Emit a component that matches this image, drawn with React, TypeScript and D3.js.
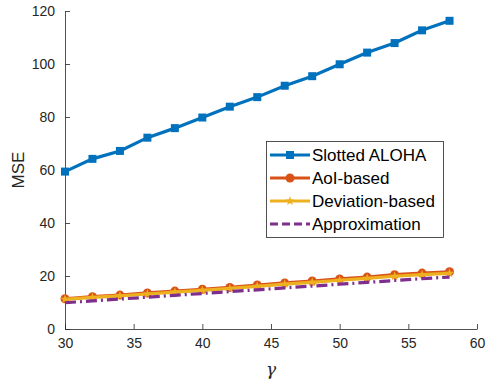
import React, { useEffect, useRef } from "react";
import * as d3 from "d3";

const gammas = [30, 32, 34, 36, 38, 40, 42, 44, 46, 48, 50, 52, 54, 56, 58];
const slotted = [59.4, 64.2, 67.2, 72.2, 75.8, 79.8, 83.9, 87.5, 91.8, 95.4, 99.9, 104.3, 107.9, 112.7, 116.3];
const aoi = [11.4, 12.2, 12.8, 13.6, 14.3, 15.0, 15.7, 16.6, 17.4, 18.1, 18.9, 19.6, 20.5, 21.1, 21.6];
const deviation = [11.2, 11.9, 12.5, 13.2, 13.9, 14.6, 15.3, 16.1, 16.9, 17.6, 18.4, 19.1, 19.9, 20.5, 21.0];
const approx = [9.9, 10.6, 11.3, 12.0, 12.7, 13.4, 14.1, 14.8, 15.5, 16.2, 16.9, 17.6, 18.3, 19.0, 19.6];
const xTicks = [30, 35, 40, 45, 50, 55, 60];
const yTicks = [0, 20, 40, 60, 80, 100, 120];
const legendLabels = ["Slotted ALOHA", "AoI-based", "Deviation-based", "Approximation"];

const App = () => {
  const svgRef = useRef<SVGSVGElement>(null);
  const width = 487;
  const height = 380;
  const margin = { top: 11, right: 10, bottom: 51, left: 65 };

  useEffect(() => {
    const svg = d3.select(svgRef.current);
    svg.selectAll("*").remove();

    const x = d3.scaleLinear().domain([30, 60]).range([margin.left, width - margin.right]);
    const y = d3.scaleLinear().domain([0, 120]).range([height - margin.bottom, margin.top]);
    const axisColor = "#262626";
    const font = "Liberation Sans, Arial, sans-serif";

    // axes
    const xAxis = svg
      .append("g")
      .attr("transform", `translate(0,${y(0)})`)
      .call(d3.axisBottom(x).tickValues(xTicks).tickSizeInner(-5).tickSizeOuter(0).tickPadding(9));
    const yAxis = svg
      .append("g")
      .attr("transform", `translate(${x(30)},0)`)
      .call(d3.axisLeft(y).tickValues(yTicks).tickSizeInner(-5).tickSizeOuter(0).tickPadding(10));
    [xAxis, yAxis].forEach((a) => {
      a.selectAll("path, line").attr("stroke", axisColor).attr("stroke-width", 0.8);
      a.selectAll("text").attr("fill", axisColor).style("font-size", "14px").style("font-family", font);
    });

    svg
      .append("text")
      .attr("transform", `translate(24,${(y(0) + y(120)) / 2}) rotate(-90)`)
      .attr("text-anchor", "middle")
      .style("font-size", "17px")
      .style("font-family", font)
      .attr("fill", axisColor)
      .text("MSE");
    svg
      .append("text")
      .attr("x", (x(30) + x(60)) / 2)
      .attr("y", 375)
      .attr("text-anchor", "middle")
      .style("font-size", "17px")
      .style("font-style", "italic")
      .style("font-family", "DejaVu Serif, serif")
      .attr("fill", axisColor)
      .text("γ");

    const line = d3
      .line<number>()
      .x((_, i) => x(gammas[i]))
      .y((d) => y(d));

    const series = [
      { data: slotted, color: "#0072BD", dash: null, marker: "square" },
      { data: aoi, color: "#D95319", dash: null, marker: "circle" },
      { data: deviation, color: "#EDB120", dash: null, marker: "star" },
      { data: approx, color: "#7E2F8E", dash: "11,4,2,4", marker: null },
    ];

    const drawMarker = (g: any, kind: string | null, cx: number, cy: number, color: string) => {
      if (kind === "square") {
        g.append("rect").attr("x", cx - 4).attr("y", cy - 4).attr("width", 8).attr("height", 8).attr("fill", color);
      } else if (kind === "circle") {
        g.append("circle").attr("cx", cx).attr("cy", cy).attr("r", 4.5).attr("fill", color);
      } else if (kind === "star") {
        g.append("path")
          .attr("d", d3.symbol(d3.symbolStar, 28)())
          .attr("transform", `translate(${cx},${cy})`)
          .attr("fill", color);
      }
    };

    series.forEach((s) => {
      const g = svg.append("g");
      g.append("path")
        .datum(s.data)
        .attr("d", line)
        .attr("fill", "none")
        .attr("stroke", s.color)
        .attr("stroke-width", 3.2)
        .attr("stroke-dasharray", s.dash);
      s.data.forEach((d, i) => drawMarker(g, s.marker, x(gammas[i]), y(d), s.color));
    });

    // legend
    const lg = svg.append("g");
    lg.append("rect")
      .attr("x", 266.5)
      .attr("y", 141.5)
      .attr("width", 177)
      .attr("height", 96)
      .attr("fill", "white")
      .attr("stroke", axisColor)
      .attr("stroke-width", 0.8);
    series.forEach((s, i) => {
      const ly = 155 + i * 23;
      lg.append("line")
        .attr("x1", 270)
        .attr("x2", 310)
        .attr("y1", ly)
        .attr("y2", ly)
        .attr("stroke", s.color)
        .attr("stroke-width", 3.2)
        .attr("stroke-dasharray", s.dash ? "8,4" : null);
      drawMarker(lg, s.marker, 290, ly, s.color);
      lg.append("text")
        .attr("x", 312)
        .attr("y", ly + 6)
        .style("font-size", "17px")
        .style("font-family", font)
        .attr("fill", "#000")
        .text(legendLabels[i]);
    });
  }, []);

  return (
    <svg
      ref={svgRef}
      width={width}
      height={height}
      style={{ position: "absolute", left: 0, top: 0, background: "white" }}
    ></svg>
  );
};

export default App;
